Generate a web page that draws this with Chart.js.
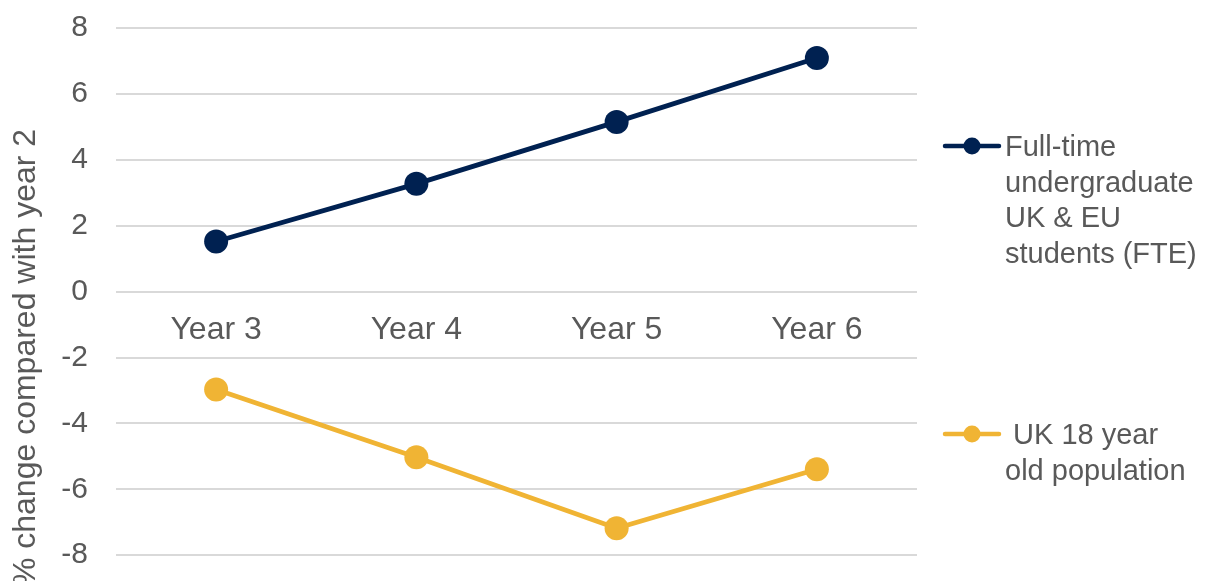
<!DOCTYPE html>
<html>
<head>
<meta charset="utf-8">
<script src="https://cdn.jsdelivr.net/npm/chart.js@4/dist/chart.umd.min.js"></script>
<style>
  html, body { margin: 0; padding: 0; background: #fff; overflow: hidden; }
  #frame { width: 1215px; height: 581px; overflow: hidden; position: relative; }
  #wrap { width: 1215px; height: 751px; position: absolute; left: 0; top: -18px; }
</style>
</head>
<body>
<div id="frame"><div id="wrap"><canvas id="chart"></canvas></div></div>
<script>
// Chart data
const years = ['Year 3', 'Year 4', 'Year 5', 'Year 6'];
const studentsFTE = [1.52, 3.27, 5.15, 7.09];
const population18 = [-2.97, -5.03, -7.18, -5.39];

const seriesNames = ['Full-time undergraduate UK & EU students (FTE)', 'UK 18 year old population'];
const legendLines = [
  ['Full-time', 'undergraduate', 'UK & EU', 'students (FTE)'],
  [' UK 18 year', 'old population']
];
const yTitle = '% change compared with year 2';

const NAVY = '#002151';
const GOLD = '#f0b434';
const TEXT = '#595959';
const FONT = "'Liberation Sans', Arial, sans-serif";
const SHIFT = 18; // canvas is pulled up by this much (see #wrap)

// Legend drawn by hand so the labels can wrap like the original
const sideLegend = {
  id: 'sideLegend',
  afterDraw(chart, args, opts) {
    const ctx = chart.ctx;
    ctx.save();
    chart.data.datasets.forEach((ds, i) => {
      const y0 = opts.tops[i] + SHIFT;
      const x0 = chart.chartArea.right + opts.gap;
      ctx.strokeStyle = ds.borderColor;
      ctx.lineWidth = 4.5;
      ctx.lineCap = 'round';
      ctx.beginPath();
      ctx.moveTo(x0, y0);
      ctx.lineTo(x0 + opts.lineLen, y0);
      ctx.stroke();
      ctx.fillStyle = ds.borderColor;
      ctx.beginPath();
      ctx.arc(x0 + opts.lineLen / 2, y0, 8.5, 0, Math.PI * 2);
      ctx.fill();

      ctx.fillStyle = TEXT;
      ctx.font = '29px ' + FONT;
      ctx.textAlign = 'left';
      ctx.textBaseline = 'middle';
      legendLines[i].forEach((line, j) => {
        ctx.fillText(line, x0 + opts.lineLen + 6, y0 + 2 + j * opts.lineHeight);
      });
    });
    ctx.restore();
  }
};

new Chart(document.getElementById('chart').getContext('2d'), {
  type: 'line',
  data: {
    labels: years,
    datasets: [
      {
        label: seriesNames[0],
        data: studentsFTE,
        borderColor: NAVY,
        backgroundColor: NAVY,
        borderWidth: 4.8,
        pointRadius: 12,
        pointHoverRadius: 12,
        pointBorderWidth: 0,
        tension: 0
      },
      {
        label: seriesNames[1],
        data: population18,
        borderColor: GOLD,
        backgroundColor: GOLD,
        borderWidth: 4.8,
        pointRadius: 12,
        pointHoverRadius: 12,
        pointBorderWidth: 0,
        tension: 0
      }
    ]
  },
  options: {
    responsive: true,
    maintainAspectRatio: false,
    animation: false,
    layout: { padding: { top: 0, right: 298, bottom: 0, left: 0 } },
    scales: {
      x: {
        position: { y: 0 },
        offset: true,
        grid: { display: false, drawTicks: false },
        border: { display: false },
        ticks: { color: TEXT, font: { family: FONT, size: 32 }, padding: 19, maxRotation: 0 }
      },
      y: {
        min: -12,
        max: 8,
        afterFit: function(scale) { scale.width = 116; },
        grid: { color: '#d9d9d9', lineWidth: 2, drawTicks: false },
        border: { display: false },
        ticks: { stepSize: 2, color: TEXT, font: { family: FONT, size: 30 }, padding: 28 },
        title: {
          display: true,
          text: yTitle,
          color: TEXT,
          font: { family: FONT, size: 32 },
          padding: { top: 7, bottom: 0 }
        }
      }
    },
    plugins: {
      legend: { display: false },
      tooltip: { enabled: false },
      sideLegend: { tops: [146, 434], gap: 28, lineLen: 54, lineHeight: 35.5 }
    }
  },
  plugins: [sideLegend]
});
</script>
</body>
</html>
